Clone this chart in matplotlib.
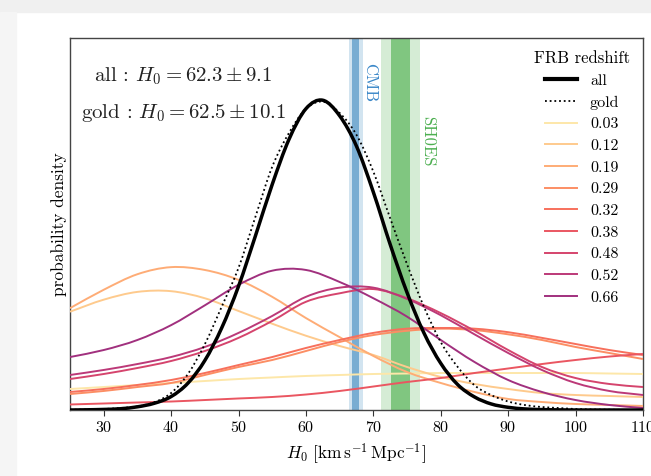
import numpy as np
import matplotlib
matplotlib.use("Agg")
import matplotlib.pyplot as plt
from matplotlib.patches import Rectangle, PathPatch
from matplotlib.path import Path
from matplotlib.lines import Line2D

plt.rcParams['font.family'] = ['cmr10', 'DejaVu Serif']
plt.rcParams['mathtext.fontset'] = 'cm'
plt.rcParams['axes.unicode_minus'] = False
plt.rcParams['axes.formatter.use_mathtext'] = True

# ---- data (densities in units of 1e-3 per km/s/Mpc) ----
H0_fine = np.arange(25, 110.01, 2.5)
all_pdf = [0.0, 0.03, 0.08, 0.18, 0.45, 0.95, 1.9, 3.8, 7.0, 11.6, 17.5, 24.6, 31.9, 38.3,
           42.6, 43.8, 41.6, 37.3, 30.8, 23.4, 16.6, 10.9, 6.6, 3.6, 1.85, 0.85, 0.38,
           0.15, 0.06, 0.02, 0.0, 0.0, 0.0, 0.0, 0.0]
gold_pdf = [0.03, 0.07, 0.14, 0.28, 0.5, 1.1, 2.4, 5.1, 9.3, 14.6, 20.1, 27.3, 34.4, 39.2,
            42.6, 43.6, 42.0, 38.9, 33.7, 27.1, 20.6, 14.6, 9.6, 6.1, 3.5, 2.1, 1.2,
            0.7, 0.42, 0.28, 0.14, 0.07, 0.04, 0.01, 0.0]

H0_coarse = np.arange(25, 110.01, 5)
redshifts = ['0.03', '0.12', '0.19', '0.29', '0.32', '0.38', '0.48', '0.52', '0.66']
frb_pdf = {
    '0.03': [2.97, 3.25, 3.54, 3.82, 4.10, 4.38, 4.60, 4.81, 4.95, 5.09, 5.16, 5.23, 5.23, 5.23, 5.23, 5.23, 5.16, 5.09],
    '0.12': [13.9, 15.6, 16.7, 16.8, 15.8, 14.0, 12.2, 10.5, 9.05, 7.78, 6.08, 4.67, 3.68, 2.97, 2.40, 2.12, 1.98, 1.84],
    '0.19': [14.4, 17.0, 19.2, 20.2, 19.8, 18.4, 16.0, 13.0, 10.3, 7.64, 5.37, 3.82, 2.55, 1.56, 1.13, 0.85, 0.71, 0.57],
    '0.29': [2.26, 2.69, 3.25, 3.82, 4.95, 6.08, 7.07, 8.34, 9.62, 10.6, 11.2, 11.5, 11.3, 10.7, 9.90, 8.91, 8.06, 7.21],
    '0.32': [2.55, 2.97, 3.54, 4.24, 5.23, 6.36, 7.49, 8.77, 9.90, 10.9, 11.5, 11.6, 11.5, 11.0, 10.2, 9.33, 8.48, 7.78],
    '0.38': [0.78, 0.92, 1.06, 1.20, 1.41, 1.63, 1.84, 2.19, 2.69, 3.32, 3.96, 4.52, 5.23, 5.87, 6.50, 7.07, 7.56, 7.92],
    '0.48': [4.38, 5.09, 5.94, 6.93, 8.34, 10.2, 12.6, 15.3, 16.5, 17.1, 15.8, 13.7, 11.2, 8.48, 6.08, 4.52, 3.68, 3.25],
    '0.52': [4.95, 5.66, 6.50, 7.49, 8.91, 10.9, 13.3, 16.0, 17.3, 17.3, 15.7, 13.4, 10.7, 8.06, 5.66, 3.82, 2.69, 2.12],
    '0.66': [7.49, 8.48, 9.90, 12.0, 14.8, 17.7, 19.7, 19.8, 18.1, 15.8, 13.2, 9.90, 6.79, 4.24, 2.55, 1.41, 0.71, 0.28],
}
cmb_mean, cmb_sig = 67.4, 0.5
shoes_mean, shoes_sig = 74.03, 1.42
x_ticks = [30, 40, 50, 60, 70, 80, 90, 100, 110]


def smooth_path(x, y):
    """Cubic Bezier path passing through every data point (Catmull-Rom tangents)."""
    x = np.asarray(x, float)
    y = np.asarray(y, float)
    m = np.gradient(y, x)
    verts = [(x[0], y[0])]
    codes = [Path.MOVETO]
    for i in range(len(x) - 1):
        h = x[i + 1] - x[i]
        verts += [(x[i] + h / 3, y[i] + m[i] * h / 3),
                  (x[i + 1] - h / 3, y[i + 1] - m[i + 1] * h / 3),
                  (x[i + 1], y[i + 1])]
        codes += [Path.CURVE4] * 3
    return Path(verts, codes)


# ---- figure ----
fig = plt.figure(figsize=(6.51, 4.76), dpi=100)
fig.patches.append(Rectangle((0, 1 - 12 / 476), 1, 12 / 476, transform=fig.transFigure,
                             color='#f0f0f0', zorder=-10))
fig.patches.append(Rectangle((0, 0), 16 / 651, 1 - 12 / 476, transform=fig.transFigure,
                             color='#f5f5f5', zorder=-10))
ax = fig.add_axes([70 / 651, 1 - 410 / 476, 573 / 651, 372 / 476])

# bands
ax.axvspan(cmb_mean - 2 * cmb_sig, cmb_mean + 2 * cmb_sig, color='#d2e4f0', lw=0, zorder=0)
ax.axvspan(cmb_mean - cmb_sig, cmb_mean + cmb_sig, color='#79add2', lw=0, zorder=0.5)
ax.axvspan(shoes_mean - 2 * shoes_sig, shoes_mean + 2 * shoes_sig, color='#d5ecd5', lw=0, zorder=0)
ax.axvspan(shoes_mean - shoes_sig, shoes_mean + shoes_sig, color='#80c680', lw=0, zorder=0.5)

colors = plt.cm.magma(np.linspace(0.95, 0.45, len(redshifts)))
handles = [Line2D([], [], color='black', lw=3.0, label='all'),
           Line2D([], [], color='black', lw=1.3, ls=(0, (1, 1.6)), label='gold')]
for z, c in zip(redshifts, colors):
    ax.add_patch(PathPatch(smooth_path(H0_coarse, np.array(frb_pdf[z]) * 1e-3),
                           facecolor='none', edgecolor=c, lw=1.4, zorder=3))
    handles.append(Line2D([], [], color=c, lw=1.4, label=z))

ax.add_patch(PathPatch(smooth_path(H0_fine, np.array(all_pdf) * 1e-3),
                       facecolor='none', edgecolor='black', lw=2.5, zorder=5))
ax.add_patch(PathPatch(smooth_path(H0_fine, np.array(gold_pdf) * 1e-3),
                       facecolor='none', edgecolor='black', lw=1.3, ls=(0, (1, 1.6)), zorder=5))

ax.set_xlim(25, 110)
ax.set_ylim(0, 0.0526)
ax.set_xticks(x_ticks)
ax.set_yticks([])
ax.tick_params(axis='x', labelsize=11.5, direction='out', length=4, color='#333333')
for s in ax.spines.values():
    s.set_color('#444444')
    s.set_linewidth(1.0)

ax.set_xlabel(r'$H_0\ [\mathrm{km\,s^{-1}\,Mpc^{-1}}]$', fontsize=12.5, labelpad=5)
ax.set_ylabel('probability density', fontsize=12.5, labelpad=2)

ax.text(0.198, 0.898, r'all : $H_0 = 62.3 \pm 9.1$', transform=ax.transAxes,
        ha='center', va='center', fontsize=15, color='#222222')
ax.text(0.198, 0.798, r'gold : $H_0 = 62.5 \pm 10.1$', transform=ax.transAxes,
        ha='center', va='center', fontsize=15, color='#222222')

ax.text(0.5236, 0.879, 'CMB', transform=ax.transAxes, rotation=-90, ha='center', va='center',
        fontsize=12, color='#3a87c8')
ax.text(0.625, 0.723, 'SH0ES', transform=ax.transAxes, rotation=-90, ha='center', va='center',
        fontsize=12, color='#4caf50')

leg = ax.legend(handles=handles, title='FRB redshift', loc='upper right', frameon=False,
                fontsize=11.5, title_fontsize=12, handlelength=2.0, labelspacing=0.47,
                borderaxespad=0.4)

fig.savefig('out.png', dpi=100)
